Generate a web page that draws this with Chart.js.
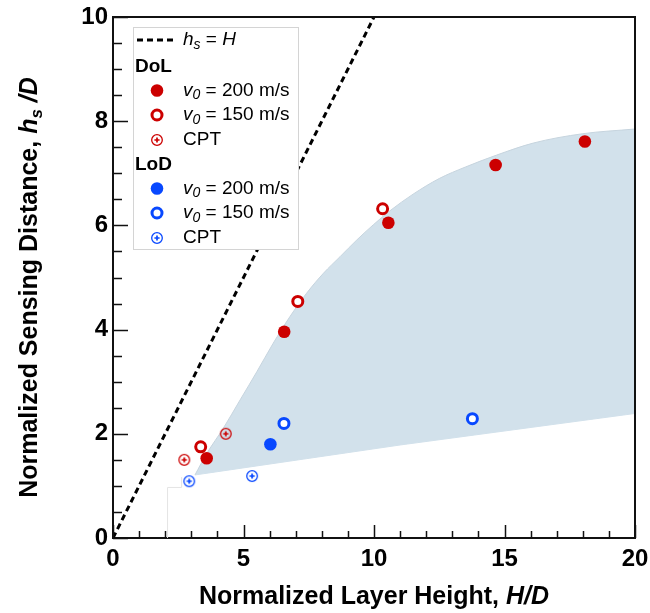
<!DOCTYPE html>
<html>
<head>
<meta charset="utf-8">
<script src="https://cdn.jsdelivr.net/npm/chart.js@4.4.1/dist/chart.umd.min.js"></script>
<style>
  html, body { margin: 0; padding: 0; background: #fff; }
  canvas { display: block; }
</style>
</head>
<body>
<canvas id="chart" width="650" height="613"></canvas>
<script>
'use strict';
// values
const dol200X = [3.59, 6.56, 10.55, 14.66, 18.08];
const dol200Y = [1.53, 3.96, 6.05, 7.16, 7.61];
const dol150X = [3.36, 7.08, 10.33];
const dol150Y = [1.75, 4.54, 6.32];
const dolCptX = [2.73, 4.32];
const dolCptY = [1.50, 2.00];
const lod200X = [6.03];
const lod200Y = [1.80];
const lod150X = [6.55, 13.77];
const lod150Y = [2.20, 2.29];
const lodCptX = [2.92, 5.33];
const lodCptY = [1.09, 1.19];

// shaded band edges
const upperX = [3.14, 3.59, 4.23, 4.87, 5.51, 6.14, 6.78, 7.42, 8.06, 8.70, 9.34, 9.97, 10.61, 11.5, 12.5, 13.5, 14.7, 16.1, 18.0, 20.0];
const upperY = [1.21, 1.62, 2.11, 2.65, 3.19, 3.74, 4.25, 4.70, 5.08, 5.40, 5.72, 6.01, 6.28, 6.60, 6.90, 7.12, 7.35, 7.58, 7.76, 7.85];
const lowerX = [3.14, 11.0, 20.0];
const lowerY = [1.21, 1.785, 2.39];

// faint outline near the origin
const stepX = [2.09, 2.09, 2.63, 2.63];
const stepY = [0, 0.97, 0.97, 1.17];

const refX = [0, 10];
const refY = [0, 10];

const xTicks = [0, 5, 10, 15, 20];
const yTicks = [0, 2, 4, 6, 8, 10];

const RED = 'rgb(204,0,0)';
const BLUE = 'rgb(8,72,255)';
const BAND = 'rgb(210,225,235)';
const FONT = '"Liberation Sans", Arial, Helvetica, sans-serif';

function pts(xs, ys) {
    return xs.map((x, i) => ({ x: x, y: ys[i] }));
}

function mkCpt(color) {
    const c = document.createElement('canvas');
    c.width = 14;
    c.height = 14;
    const g = c.getContext('2d');
    g.strokeStyle = color;
    g.lineWidth = 1.3;
    g.beginPath();
    g.arc(7, 7, 5.3, 0, Math.PI * 2);
    g.stroke();
    g.lineWidth = 1.7;
    g.beginPath();
    g.moveTo(7, 4.4); g.lineTo(7, 9.6);
    g.moveTo(4.4, 7); g.lineTo(9.6, 7);
    g.stroke();
    return c;
}
const cptRed = mkCpt(RED);
const cptBlue = mkCpt(BLUE);

function drawParts(ctx, x, y, parts) {
    let cx = x;
    parts.forEach(p => {
        ctx.font = p.font;
        ctx.fillText(p.t, cx, y + (p.dy || 0));
        cx += ctx.measureText(p.t).width;
    });
    return cx - x;
}
function partsWidth(ctx, parts) {
    let w = 0;
    parts.forEach(p => { ctx.font = p.font; w += ctx.measureText(p.t).width; });
    return w;
}

const decor = {
    id: 'decor',
    afterDraw(chart) {
        const ctx = chart.ctx;
        const a = chart.chartArea;
        const xs = chart.scales.x;
        const ys = chart.scales.y;
        ctx.save();

        // frame top / right
        ctx.strokeStyle = '#111';
        ctx.lineWidth = 2;
        ctx.beginPath();
        ctx.moveTo(a.left, a.top);
        ctx.lineTo(a.right, a.top);
        ctx.lineTo(a.right, a.bottom);
        ctx.stroke();

        // inward ticks
        ctx.lineWidth = 1.5;
        ctx.beginPath();
        for (let v = 0; v <= 20; v++) {
            const px = Math.round(xs.getPixelForValue(v)) + 0.5;
            const len = v % 5 === 0 ? 13 : 7;
            ctx.moveTo(px, a.bottom);
            ctx.lineTo(px, a.bottom - len);
        }
        for (let v = 0; v <= 10; v += 0.5) {
            const py = Math.round(ys.getPixelForValue(v)) + 0.5;
            const len = v % 2 === 0 ? 15 : 9;
            ctx.moveTo(a.left, py);
            ctx.lineTo(a.left + len, py);
        }
        ctx.stroke();

        // legend box
        const bx = 133, by = 27, bw = 165, bh = 222;
        ctx.fillStyle = '#fff';
        ctx.fillRect(bx, by, bw, bh);
        ctx.strokeStyle = '#d4d4d4';
        ctx.lineWidth = 1;
        ctx.strokeRect(bx + 0.5, by + 0.5, bw, bh);

        ctx.fillStyle = '#000';
        ctx.textBaseline = 'middle';
        ctx.textAlign = 'left';
        const tx = 183, mx = 157;
        const reg = '19px ' + FONT;
        const ita = 'italic 19px ' + FONT;
        const sub = 'italic 14px ' + FONT;

        // row: h_s = H
        ctx.strokeStyle = '#000';
        ctx.lineWidth = 3;
        ctx.setLineDash([6, 4]);
        ctx.beginPath();
        ctx.moveTo(137, 40);
        ctx.lineTo(175, 40);
        ctx.stroke();
        ctx.setLineDash([]);
        drawParts(ctx, tx, 40, [
            { t: 'h', font: ita },
            { t: 's', font: sub, dy: 5 },
            { t: ' = ', font: reg },
            { t: 'H', font: ita }
        ]);

        const vRow = (y, speed) => drawParts(ctx, tx, y, [
            { t: 'v', font: ita },
            { t: '0', font: sub, dy: 5 },
            { t: ' = ' + speed + ' m/s', font: reg }
        ]);
        const filled = (y, col) => {
            ctx.fillStyle = col;
            ctx.beginPath();
            ctx.arc(mx, y, 6.3, 0, Math.PI * 2);
            ctx.fill();
            ctx.fillStyle = '#000';
        };
        const open = (y, col) => {
            ctx.strokeStyle = col;
            ctx.lineWidth = 3;
            ctx.beginPath();
            ctx.arc(mx, y, 5, 0, Math.PI * 2);
            ctx.stroke();
        };

        const groups = [
            { name: 'DoL', col: RED, cpt: cptRed, y0: 67 },
            { name: 'LoD', col: BLUE, cpt: cptBlue, y0: 165 }
        ];
        groups.forEach(gp => {
            ctx.font = 'bold 19px ' + FONT;
            ctx.fillStyle = '#000';
            ctx.fillText(gp.name, 135, gp.y0);
            filled(gp.y0 + 23.5, gp.col);
            vRow(gp.y0 + 23.5, '200');
            open(gp.y0 + 48, gp.col);
            vRow(gp.y0 + 48, '150');
            ctx.drawImage(gp.cpt, mx - 7, gp.y0 + 73 - 7);
            ctx.font = reg;
            ctx.fillText('CPT', tx, gp.y0 + 73);
        });

        // axis titles
        const bold = 'bold 25px ' + FONT;
        const boldIt = 'italic bold 25px ' + FONT;
        const boldSub = 'italic bold 17px ' + FONT;
        const xt = [
            { t: 'Normalized Layer Height, ', font: bold },
            { t: 'H/D', font: boldIt }
        ];
        const xw = partsWidth(ctx, xt);
        drawParts(ctx, (a.left + a.right) / 2 - xw / 2, 597, xt);

        const yt = [
            { t: 'Normalized Sensing Distance, ', font: bold },
            { t: 'h', font: boldIt },
            { t: 's', font: boldSub, dy: 7 },
            { t: ' /D', font: boldIt }
        ];
        const yw = partsWidth(ctx, yt);
        ctx.translate(30, (a.top + a.bottom) / 2 + 10);
        ctx.rotate(-Math.PI / 2);
        drawParts(ctx, -yw / 2, 0, yt);

        ctx.restore();
    }
};

new Chart(document.getElementById('chart').getContext('2d'), {
    type: 'scatter',
    data: {
        datasets: [
            {
                label: 'DoL v0 = 200 m/s',
                data: pts(dol200X, dol200Y),
                pointStyle: 'circle',
                pointRadius: 6.3,
                pointBackgroundColor: RED,
                pointBorderWidth: 0,
                order: 1
            },
            {
                label: 'DoL v0 = 150 m/s',
                data: pts(dol150X, dol150Y),
                pointStyle: 'circle',
                pointRadius: 5,
                pointBackgroundColor: '#fff',
                pointBorderColor: RED,
                pointBorderWidth: 3,
                order: 1
            },
            {
                label: 'DoL CPT',
                data: pts(dolCptX, dolCptY),
                pointStyle: cptRed,
                order: 1
            },
            {
                label: 'LoD v0 = 200 m/s',
                data: pts(lod200X, lod200Y),
                pointStyle: 'circle',
                pointRadius: 6.3,
                pointBackgroundColor: BLUE,
                pointBorderWidth: 0,
                order: 1
            },
            {
                label: 'LoD v0 = 150 m/s',
                data: pts(lod150X, lod150Y),
                pointStyle: 'circle',
                pointRadius: 5,
                pointBackgroundColor: '#fff',
                pointBorderColor: BLUE,
                pointBorderWidth: 3,
                order: 1
            },
            {
                label: 'LoD CPT',
                data: pts(lodCptX, lodCptY),
                pointStyle: cptBlue,
                order: 1
            },
            {
                label: 'hs = H',
                data: pts(refX, refY),
                showLine: true,
                borderColor: '#000',
                borderWidth: 3,
                borderDash: [6, 4],
                pointRadius: 0,
                order: 2
            },
            {
                label: 'step',
                data: pts(stepX, stepY),
                showLine: true,
                borderColor: '#e4e4e4',
                borderWidth: 1,
                pointRadius: 0,
                order: 3
            },
            {
                label: 'band upper',
                data: pts(upperX, upperY),
                showLine: true,
                cubicInterpolationMode: 'monotone',
                fill: '+1',
                backgroundColor: BAND,
                borderColor: 'rgb(198,212,222)',
                borderWidth: 1,
                pointRadius: 0,
                order: 4
            },
            {
                label: 'band lower',
                data: pts(lowerX, lowerY),
                showLine: true,
                fill: false,
                borderColor: BAND,
                borderWidth: 1,
                pointRadius: 0,
                order: 4
            }
        ]
    },
    options: {
        responsive: false,
        animation: false,
        events: [],
        layout: { padding: { top: 17, right: 15, left: 0, bottom: 0 } },
        plugins: {
            legend: { display: false },
            tooltip: { enabled: false }
        },
        scales: {
            x: {
                type: 'linear',
                min: 0,
                max: 20,
                afterBuildTicks: s => { s.ticks = xTicks.map(v => ({ value: v })); },
                afterFit: s => { s.height = 75; s.paddingRight = 0; s.paddingLeft = 0; },
                grid: { display: false, drawTicks: false },
                border: { display: true, color: '#111', width: 2 },
                ticks: {
                    color: '#000',
                    padding: 7,
                    maxRotation: 0,
                    font: { family: FONT, size: 24, weight: 'bold' }
                }
            },
            y: {
                type: 'linear',
                min: 0,
                max: 10,
                afterBuildTicks: s => { s.ticks = yTicks.map(v => ({ value: v })); },
                afterFit: s => { s.width = 113; s.paddingTop = 0; s.paddingBottom = 0; },
                grid: { display: false, drawTicks: false },
                border: { display: true, color: '#111', width: 2 },
                ticks: {
                    color: '#000',
                    padding: 5,
                    font: { family: FONT, size: 24, weight: 'bold' }
                }
            }
        }
    },
    plugins: [decor]
});
</script>
</body>
</html>
